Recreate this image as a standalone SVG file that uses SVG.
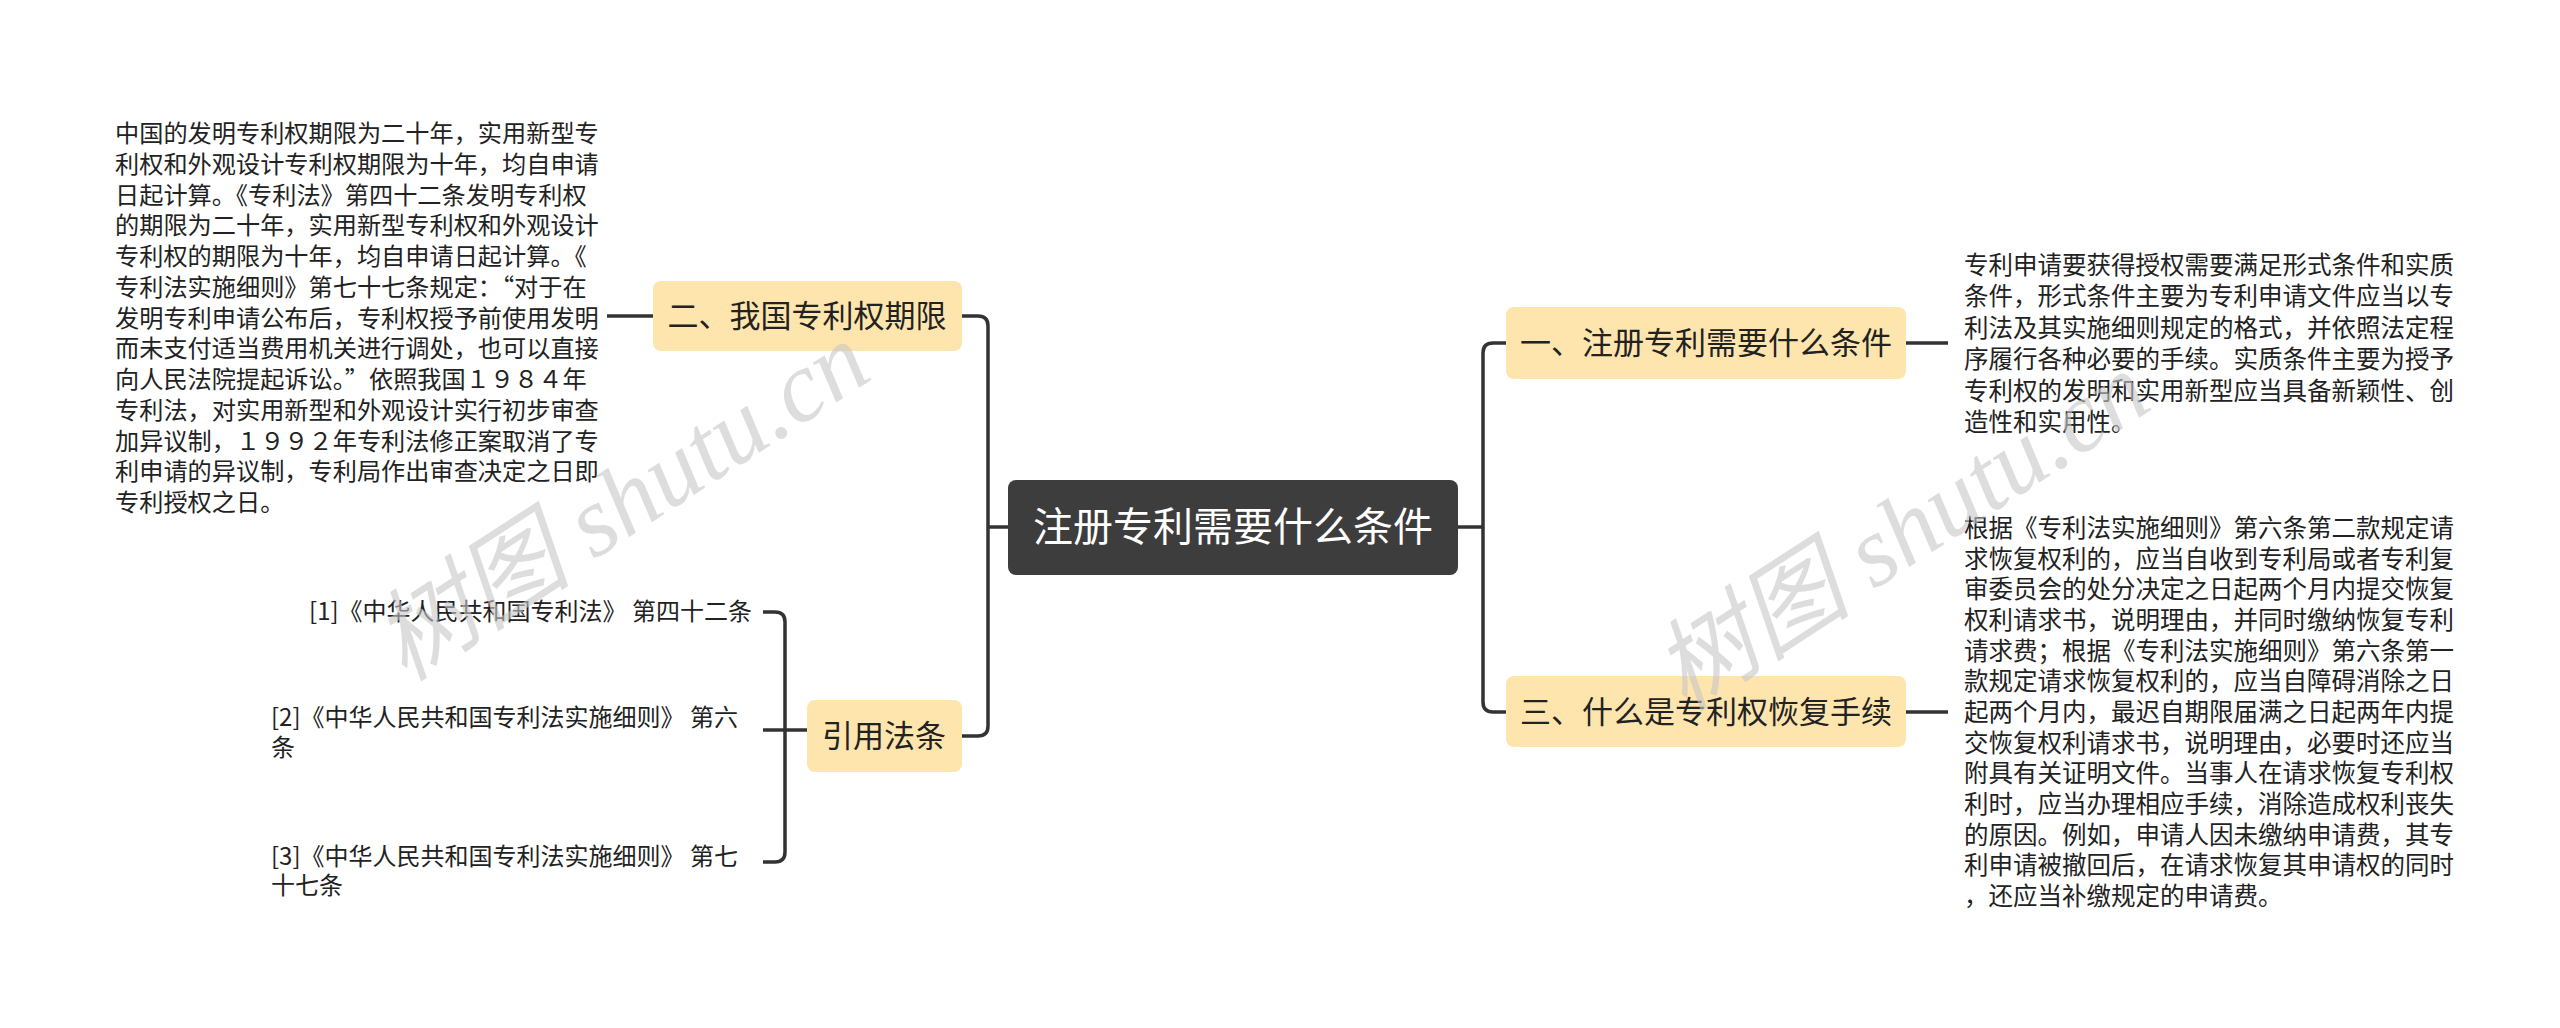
<svg xmlns="http://www.w3.org/2000/svg" width="2560" height="1028" viewBox="0 0 2560 1028">
<style>
text{font-family:"Noto Sans CJK SC","Noto Sans",sans-serif;fill:#222}
.leaf{font-size:24.5px}
.cit{font-size:24px}
.sub rect{fill:#fde5ad}
.sub text{font-size:31px;fill:#222}
.conn path{fill:none;stroke:#333;stroke-width:3.5}
.wm{font-family:"Liberation Serif","Noto Sans CJK SC",serif;font-size:100px;fill:#c8c8c8;opacity:0.6;font-style:italic}
</style>
<rect width="2560" height="1028" fill="#fff"/>
<g class="conn">
<path d="M1008 527 H988"/>
<path d="M962 316 H978 Q988 316 988 326 V726 Q988 736 978 736 H962"/>
<path d="M1458 527 H1483"/>
<path d="M1506 343 H1493 Q1483 343 1483 353 V702 Q1483 712 1493 712 H1506"/>
<path d="M607 316 H653"/>
<path d="M1906 343 H1948"/>
<path d="M1906 712 H1948"/>
<path d="M763 612 H775 Q785 612 785 622 V852 Q785 862 775 862 H763"/>
<path d="M763 730 H807"/>
</g>
<g id="center"><rect x="1008" y="480" width="450" height="95" rx="8" fill="#3d3d3d"/><text x="1233" y="541" font-size="40" text-anchor="middle" style="fill:#fff">注册专利需要什么条件</text></g>
<g id="n2" class="sub"><rect x="653" y="281" width="309" height="70" rx="8"/><text x="807" y="327" text-anchor="middle">二、我国专利权期限</text></g>
<g id="n4" class="sub"><rect x="807" y="700" width="155" height="72" rx="8"/><text x="884" y="747" text-anchor="middle">引用法条</text></g>
<g id="n1" class="sub"><rect x="1506" y="307" width="400" height="72" rx="8"/><text x="1706" y="354" text-anchor="middle">一、注册专利需要什么条件</text></g>
<g id="n3" class="sub"><rect x="1506" y="676" width="400" height="71" rx="8"/><text x="1706" y="723" text-anchor="middle">三、什么是专利权恢复手续</text></g>
<g id="t2" class="leaf" style="font-size:24.2px">
<text x="115" y="142">中国的发明专利权期限为二十年，实用新型专</text>
<text x="115" y="173">利权和外观设计专利权期限为十年，均自申请</text>
<text x="115" y="204">日起计算。《专利法》第四十二条发明专利权</text>
<text x="115" y="234">的期限为二十年，实用新型专利权和外观设计</text>
<text x="115" y="265">专利权的期限为十年，均自申请日起计算。《</text>
<text x="115" y="296">专利法实施细则》第七十七条规定：“对于在</text>
<text x="115" y="327">发明专利申请公布后，专利权授予前使用发明</text>
<text x="115" y="357">而未支付适当费用机关进行调处，也可以直接</text>
<text x="115" y="388">向人民法院提起诉讼。”依照我国１９８４年</text>
<text x="115" y="419">专利法，对实用新型和外观设计实行初步审查</text>
<text x="115" y="450">加异议制，１９９２年专利法修正案取消了专</text>
<text x="115" y="480">利申请的异议制，专利局作出审查决定之日即</text>
<text x="115" y="511">专利授权之日。</text>
</g>
<g id="t1" class="leaf">
<text x="1964" y="274">专利申请要获得授权需要满足形式条件和实质</text>
<text x="1964" y="305">条件，形式条件主要为专利申请文件应当以专</text>
<text x="1964" y="337">利法及其实施细则规定的格式，并依照法定程</text>
<text x="1964" y="368">序履行各种必要的手续。实质条件主要为授予</text>
<text x="1964" y="400">专利权的发明和实用新型应当具备新颖性、创</text>
<text x="1964" y="431">造性和实用性。</text>
</g>
<g id="t3" class="leaf">
<text x="1964" y="537">根据《专利法实施细则》第六条第二款规定请</text>
<text x="1964" y="568">求恢复权利的，应当自收到专利局或者专利复</text>
<text x="1964" y="598">审委员会的处分决定之日起两个月内提交恢复</text>
<text x="1964" y="629">权利请求书，说明理由，并同时缴纳恢复专利</text>
<text x="1964" y="660">请求费；根据《专利法实施细则》第六条第一</text>
<text x="1964" y="690">款规定请求恢复权利的，应当自障碍消除之日</text>
<text x="1964" y="721">起两个月内，最迟自期限届满之日起两年内提</text>
<text x="1964" y="752">交恢复权利请求书，说明理由，必要时还应当</text>
<text x="1964" y="782">附具有关证明文件。当事人在请求恢复专利权</text>
<text x="1964" y="813">利时，应当办理相应手续，消除造成权利丧失</text>
<text x="1964" y="844">的原因。例如，申请人因未缴纳申请费，其专</text>
<text x="1964" y="874">利申请被撤回后，在请求恢复其申请权的同时</text>
<text x="1964" y="905">，还应当补缴规定的申请费。</text>
</g>
<g id="c1" class="cit"><text x="752" y="620" text-anchor="end">[1]《中华人民共和国专利法》 第四十二条</text></g>
<g id="c2" class="cit"><text x="271" y="726">[2]《中华人民共和国专利法实施细则》 第六</text><text x="271" y="756">条</text></g>
<g id="c3" class="cit"><text x="271" y="865">[3]《中华人民共和国专利法实施细则》 第七</text><text x="271" y="894">十七条</text></g>
<text class="wm" transform="translate(640 530) rotate(-33)" text-anchor="middle">树图 shutu.cn</text>
<text class="wm" transform="translate(1920 560) rotate(-33)" text-anchor="middle">树图 shutu.cn</text>
</svg>
